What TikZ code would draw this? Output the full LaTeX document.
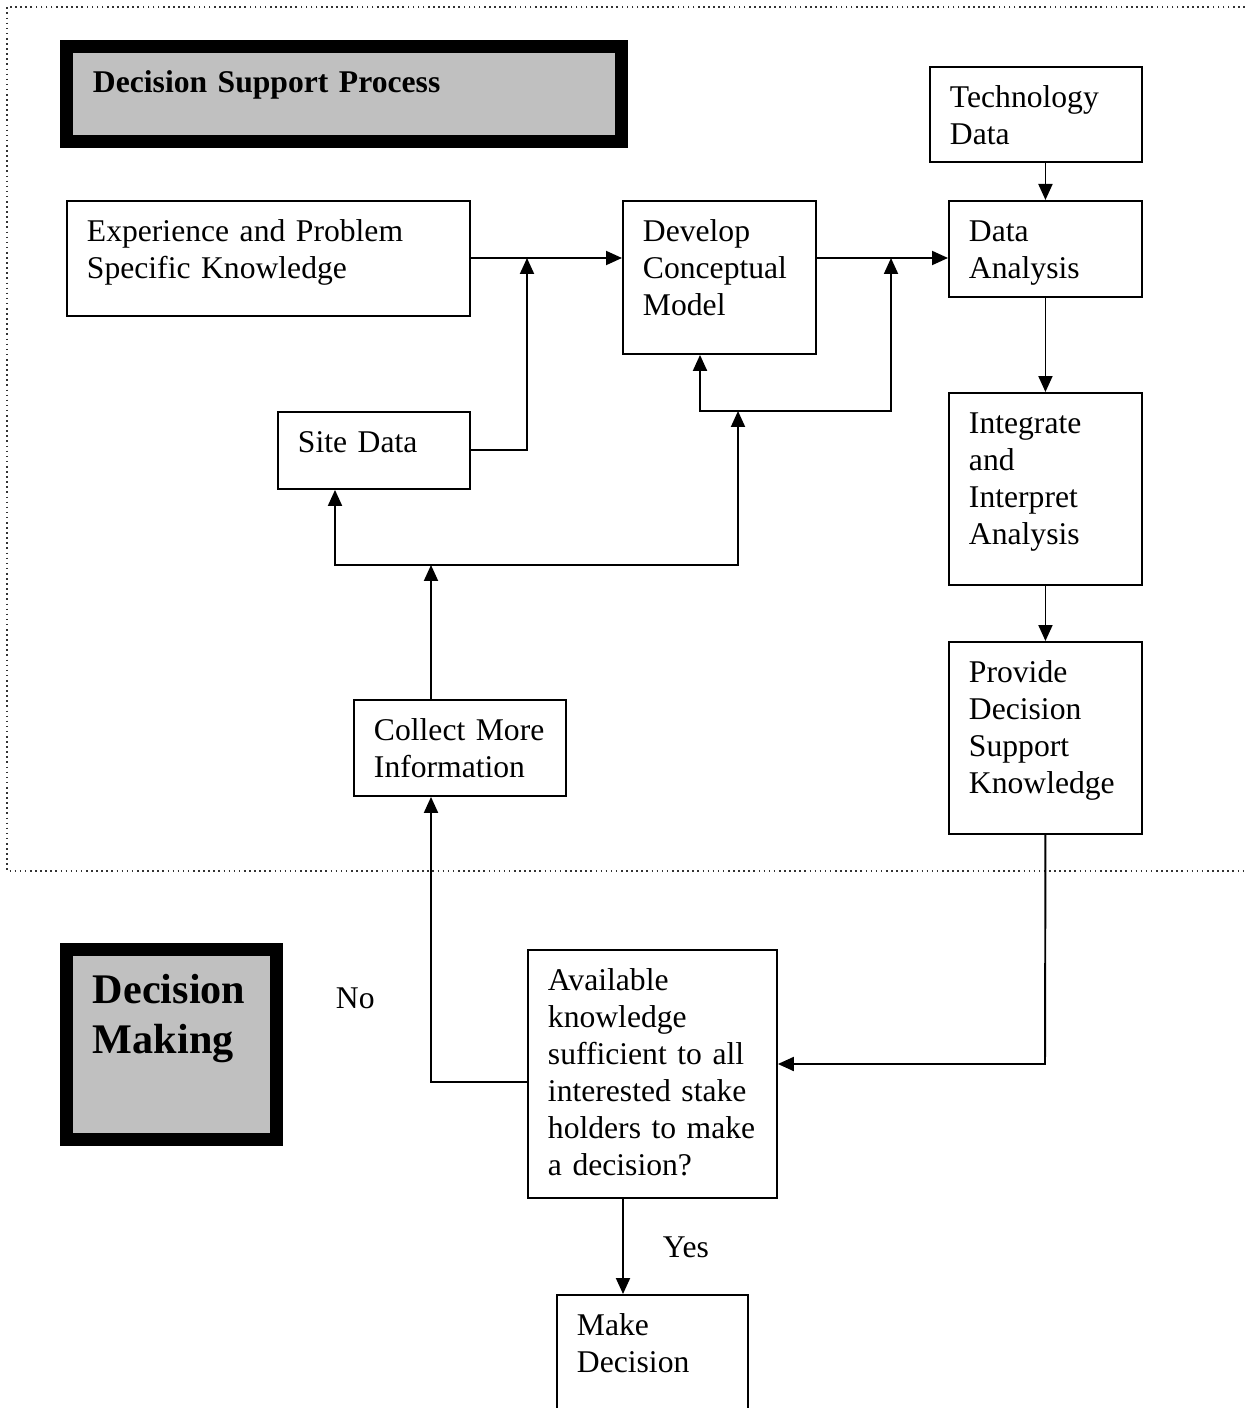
\documentclass[tikz,border=0pt]{standalone}
\usepackage{fontspec}
\setmainfont{Liberation Serif}
\usetikzlibrary{arrows.meta}
\definecolor{hdrgray}{RGB}{192,192,192}

\begin{document}
\begin{tikzpicture}[x=0.02cm, y=-0.02cm, line width=1.1pt,
  >={Triangle[length=0.32cm,width=0.28cm]},
  every node/.style={font=\fontsize{18}{21}\selectfont},
  blk/.style 2 args={draw, anchor=north west, align=left, inner xsep=0.4cm, inner ysep=0pt, text height=0.82cm, text width=#1, text depth=#2},
  hdr/.style={draw, line width=0.26cm, fill=hdrgray, anchor=north west, align=left, inner xsep=0.53cm, inner ysep=0pt}]
\clip (0,0) rectangle (1247,1408);

% dotted frame round the support process
\draw[dotted, line width=0.9pt, black!80] (1260,7) -- (7,7) -- (7,871) -- (1260,871);

\node[hdr, font=\fontsize{18}{21}\selectfont\bfseries, text width=10.04cm, text height=0.93cm, text depth=0.97cm] (dsp) at (60,40) {Decision Support Process};
\node[hdr, font=\fontsize{24}{28}\selectfont\bfseries, text width=3.14cm, text height=1.09cm, text depth=2.71cm] (dm) at (60,943) {Decision\\Making};

\node[blk={3.44cm}{1.08cm}] (tech) at (929,66) {Technology\\Data};
\node[blk={7.26cm}{1.48cm}] (exper) at (66,200) {Experience~and~Problem\\Specific~Knowledge};
\node[blk={3.06cm}{2.24cm}] (devel) at (622,200) {Develop\\Conceptual\\Model};
\node[blk={3.06cm}{1.10cm}] (analysis) at (948,200) {Data\\Analysis};
\node[blk={3.04cm}{0.72cm}] (site) at (277,411) {Site~Data};
\node[blk={3.06cm}{3.02cm}] (integ) at (948,392) {Integrate\\and\\Interpret\\Analysis};
\node[blk={3.06cm}{3.02cm}] (provide) at (948,641) {Provide\\Decision\\Support\\Knowledge};
\node[blk={3.44cm}{1.10cm}] (collect) at (353,699) {Collect~More\\Information};
\node[blk={4.18cm}{4.14cm}] (avail) at (527,949) {Available\\knowledge\\sufficient~to~all\\interested~stake\\holders~to~make\\a~decision?};
\node[blk={3.02cm}{2.20cm}] (make) at (556,1294) {Make\\Decision};

\node[anchor=base west, inner sep=0pt] (no) at (335,1008) {No};
\node[anchor=base west, inner sep=0pt] (yes) at (662,1257) {Yes};

% junctions
\coordinate (j1) at (527,258);
\coordinate (j2) at (891,258);
\coordinate (j3) at (700,411);
\coordinate (j4) at (891,411);
\coordinate (j5) at (738,565);
\coordinate (j6) at (335,565);
\coordinate (j7) at (431,565);
\coordinate (j8) at (1045,1064);
\coordinate (j9) at (431,1082);
\coordinate (j10) at (623,1240);

\draw[->] (exper.east |- j1) -- (devel.west |- j1);
\draw[->] (site.east) -| (j1);
\draw[->] (devel.east |- j2) -- (analysis.west |- j2);
\draw[<->] (devel.south -| j3) -- (j3) -- (j4) -- (j2);
\draw[<->] (j6 |- site.south) -- (j6) -- (j5) -- (j5 |- j3);
\draw[->] (collect.north -| j7) -- (j7);
\draw[->] (tech.south -| analysis.north) -- (analysis.north);
\draw[->] (analysis) -- (integ);
\draw[->] (integ) -- (provide);
\draw[->] (provide.south) -- (j8) -- (j8 -| avail.east);
\draw[->] (avail.west |- j9) -- (j9) -- (j9 |- collect.south);
\draw[->] (avail.south -| j10) -- (make.north -| j10);
\end{tikzpicture}
\end{document}
